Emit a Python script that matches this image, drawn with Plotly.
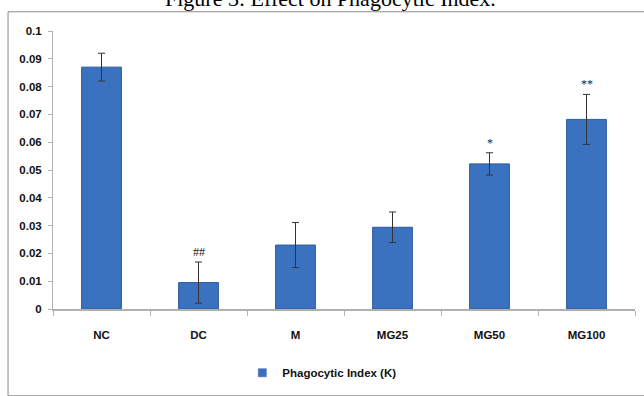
import plotly.graph_objects as go

categories = ["NC", "DC", "M", "MG25", "MG50", "MG100"]
values = [0.087, 0.0095, 0.023, 0.0294, 0.0522, 0.0682]
errors = [0.005, 0.0074, 0.0081, 0.0055, 0.0040, 0.0090]
marks = ["", "##", "", "", "*", "**"]
series_name = "Phagocytic Index (K)"
y_ticks = [0, 0.01, 0.02, 0.03, 0.04, 0.05, 0.06, 0.07, 0.08, 0.09, 0.1]
y_tick_text = ["0", "0.01", "0.02", "0.03", "0.04", "0.05", "0.06", "0.07", "0.08", "0.09", "0.1"]

W, H = 644, 396
ml, mr, mt, mb = 52.5, 9, 31, 83
pw, ph = W - ml - mr, H - mt - mb

BAR = "#3b72bf"

fig = go.Figure()
fig.add_trace(go.Bar(
    x=categories, y=values, name=series_name,
    marker=dict(color=BAR, line=dict(color="#2c5b9c", width=1)),
    error_y=dict(type="data", array=errors, visible=True, color="#333333",
                 thickness=1, width=3.5),
    width=0.41, showlegend=False,
))
# legend proxy (small square symbol like the reference)
fig.add_trace(go.Scatter(
    x=[None], y=[None], mode="markers", name=series_name,
    marker=dict(symbol="square", size=8, color=BAR, line=dict(color="#2c5b9c", width=0.5)),
    showlegend=True,
))

for c, v, e, m in zip(categories, values, errors, marks):
    if m:
        fig.add_annotation(x=c, y=v + e, text=m, showarrow=False, yanchor="bottom",
                           yshift=1, font=dict(family="Liberation Serif", size=12, color="#222"))

fig.add_annotation(x=(330 - ml) / pw, xref="paper", y=1, yref="paper", yshift=mt - 13,
                   text="Figure 3: Effect on Phagocytic Index.", showarrow=False,
                   yanchor="bottom", xanchor="center",
                   font=dict(family="Liberation Serif", size=22, color="#000"))

# frame
fig.add_shape(type="rect", xref="paper", yref="paper",
              x0=(7.5 - ml) / pw, x1=(W + 5 - ml) / pw,
              y0=-(mb + 5) / ph, y1=1 + (mt - 11.5) / ph,
              line=dict(color="#8c8c8c", width=1), fillcolor="rgba(0,0,0,0)", layer="below")

fig.update_layout(
    width=W, height=H,
    margin=dict(l=ml, r=mr, t=mt, b=mb),
    plot_bgcolor="white", paper_bgcolor="white",
    xaxis=dict(type="category", showline=True, linecolor="#b0b0b0", linewidth=1.5,
               ticks="outside", tickson="boundaries", ticklen=5, tickcolor="#b0b0b0",
               tickfont=dict(family="Liberation Sans", size=11.5, color="#111", weight="bold"),
               ticklabelstandoff=14, showgrid=False, zeroline=False),
    yaxis=dict(range=[0, 0.1], tickvals=y_ticks, ticktext=y_tick_text, showline=True,
               linecolor="#b0b0b0", linewidth=1, ticks="outside", ticklen=4,
               tickcolor="#b0b0b0", showgrid=False, zeroline=False,
               tickfont=dict(family="Liberation Sans", size=11.5, color="#111", weight="bold"),
               ticklabelstandoff=4),
    legend=dict(orientation="h", x=(242 - ml) / pw, xanchor="left", y=-0.177, yanchor="top",
                font=dict(family="Liberation Sans", size=11.5, color="#111", weight="bold"),
                itemwidth=30, bgcolor="rgba(0,0,0,0)"),
    showlegend=True,
)

fig.write_html("out.html", config={"displayModeBar": False},
               post_script="document.body.style.margin='0';")
